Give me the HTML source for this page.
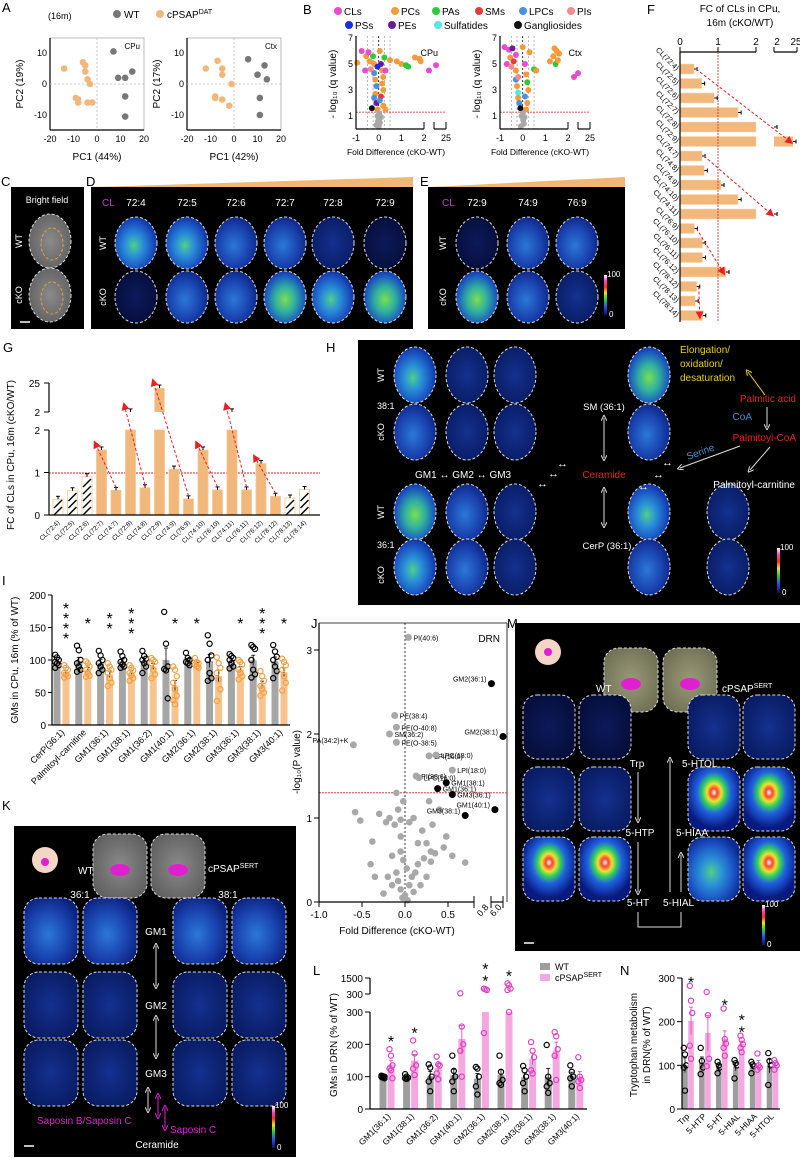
<!DOCTYPE html>
<html><head><meta charset="utf-8"><style>
html,body{margin:0;padding:0;background:#fff;}
svg{display:block;font-family:"Liberation Sans",sans-serif;}
</style></head><body>
<svg id="fig" xmlns="http://www.w3.org/2000/svg" width="800" height="1158" viewBox="0 0 800 1158">
<defs>
<radialGradient id="gBright" cx="45%" cy="55%" r="60%"><stop offset="0" stop-color="#4fd08a"/><stop offset="0.35" stop-color="#2a90d8"/><stop offset="0.75" stop-color="#1a4ec0"/><stop offset="1" stop-color="#0c2a90"/></radialGradient>
<radialGradient id="gMid" cx="45%" cy="55%" r="60%"><stop offset="0" stop-color="#2b78d8"/><stop offset="0.6" stop-color="#1a44b0"/><stop offset="1" stop-color="#0c2280"/></radialGradient>
<radialGradient id="gDim" cx="50%" cy="50%" r="60%"><stop offset="0" stop-color="#14318f"/><stop offset="1" stop-color="#081a60"/></radialGradient>
<radialGradient id="gVdim" cx="50%" cy="50%" r="60%"><stop offset="0" stop-color="#0b1a5a"/><stop offset="1" stop-color="#050d38"/></radialGradient>
<radialGradient id="gGreen" cx="50%" cy="55%" r="60%"><stop offset="0" stop-color="#7adf50"/><stop offset="0.4" stop-color="#30b0a0"/><stop offset="0.8" stop-color="#1a50c0"/><stop offset="1" stop-color="#0c2a90"/></radialGradient>
<radialGradient id="gHot" cx="50%" cy="40%" r="55%"><stop offset="0" stop-color="#ffffff"/><stop offset="0.12" stop-color="#ff4030"/><stop offset="0.25" stop-color="#f0e030"/><stop offset="0.4" stop-color="#30d060"/><stop offset="0.6" stop-color="#2060e0"/><stop offset="1" stop-color="#081a80"/></radialGradient>
<radialGradient id="gGray" cx="50%" cy="50%" r="60%"><stop offset="0" stop-color="#8a8a8a"/><stop offset="1" stop-color="#5e5e5e"/></radialGradient>
<radialGradient id="gOlive" cx="50%" cy="50%" r="60%"><stop offset="0" stop-color="#9a9a78"/><stop offset="1" stop-color="#6e6e55"/></radialGradient>
<linearGradient id="gBar" x1="0" y1="0" x2="0" y2="1"><stop offset="0" stop-color="#ffffff"/><stop offset="0.15" stop-color="#ff40c0"/><stop offset="0.3" stop-color="#ff3020"/><stop offset="0.45" stop-color="#f0e020"/><stop offset="0.6" stop-color="#30d040"/><stop offset="0.8" stop-color="#2050f0"/><stop offset="1" stop-color="#10105a"/></linearGradient>
<marker id="arrRed" markerWidth="8" markerHeight="8" refX="4" refY="4" orient="auto"><path d="M0,0 L8,4 L0,8 z" fill="#e82020"/></marker>
<marker id="arrW" markerWidth="6" markerHeight="6" refX="3" refY="3" orient="auto-start-reverse"><path d="M0,0 L6,3 L0,6" fill="none" stroke="#ddd"/></marker>
<marker id="arrM" markerWidth="6" markerHeight="6" refX="3" refY="3" orient="auto-start-reverse"><path d="M0,0 L6,3 L0,6" fill="none" stroke="#e020d0"/></marker>
<marker id="arrY" markerWidth="6" markerHeight="6" refX="3" refY="3" orient="auto"><path d="M0,0 L6,3 L0,6" fill="none" stroke="#e8d020"/></marker>
</defs>
</svg>
<script>
// ===== DATA =====
const pcaCpuWtX=[7,15,9,12,12,12];
const pcaCpuWtY=[10.5,4,2,2,-4,-10.5];
const pcaCpuKoX=[-14,-6,-5,-5,-4,-3,-9,-8,-8,-4,-2];
const pcaCpuKoY=[5,7,6,4,1.5,0,-4.5,-5,-6,-6,-6];
const pcaCtxWtX=[6,13,10,14,11,11];
const pcaCtxWtY=[8,6,3,1.5,-4.5,-10];
const pcaCtxKoX=[-12,-7,-5,-5,-1,-8,-8,-5,-2];
const pcaCtxKoY=[5,7.5,5,3,0,-4,-4.5,-5,-7];
const lipidClasses=["CLs","PCs","PAs","SMs","LPCs","PIs","PSs","PEs","Sulfatides","Gangliosides"];
const classColors=["#e84ad0","#f59a3a","#2fc83a","#e83a3a","#4a90e0","#f48a8a","#1a2ee0","#6a1a9a","#50e8e8","#111111","#a8a8a8"];
const volCpuX=[-0.95,-0.75,-0.55,-0.6,-0.45,-0.4,-0.35,-0.25,-0.2,-0.2,-0.15,-0.1,-0.15,-0.2,-0.1,-0.3,-0.05,0.05,0.1,0.15,0.2,0.15,0.2,0.1,0.05,0.2,0.3,0.25,0.3,-0.05,0.5,0.8,1.0,1.2,1.6,1.8,1.85,1.3,2.25,2.6,-0.05,0,0.05,-0.1,0.1,0,0.02,-0.03];
const volCpuY=[5.1,6.0,5.6,4.5,5.9,5.2,4.6,5.6,5.0,4.3,3.8,3.3,2.7,2.4,2.0,1.6,1.5,6.0,5.0,4.5,4.0,3.5,3.0,2.5,2.2,1.8,1.5,5.5,4.5,4.8,5.3,5.2,5.0,4.9,5.5,5.4,5.2,4.8,4.5,4.9,1.0,0.7,0.5,0.3,0.9,0.2,1.2,0.6];
const volCpuC=[1,0,1,0,0,1,5,2,1,4,1,4,1,4,7,9,1,1,7,1,1,1,1,3,4,1,1,2,0,6,1,1,1,2,1,1,1,2,0,0,10,10,10,10,10,10,10,10];
const volCtxX=[-0.8,-0.7,-0.6,-0.55,-0.5,-0.45,-0.4,-0.3,-0.3,-0.25,-0.2,-0.2,-0.15,-0.1,-0.2,-0.3,0.0,0.1,0.15,0.2,0.25,0.1,0.2,0.15,0.3,0.5,0.6,1.2,1.35,1.4,1.5,1.6,1.45,1.55,2.3,2.5,-0.05,0.02,0.05,-0.08,0.08,0];
const volCtxY=[6.3,5.0,6.1,5.5,4.8,6.2,5.2,4.5,3.8,3.3,2.8,2.4,2.0,1.6,4.0,5.7,6.3,5.0,4.2,3.6,3.0,2.5,2.0,1.5,5.9,4.6,4.5,5.2,5.6,6.2,6.0,5.8,5.0,5.3,4.0,4.3,1.0,0.7,0.4,0.2,0.9,1.2];
const volCtxC=[0,0,0,1,5,7,3,1,4,1,8,1,4,9,5,0,1,0,1,2,1,4,1,1,1,2,1,1,1,1,1,1,2,1,0,0,10,10,10,10,10,10];
const clLabelsG=["CL(72:4)","CL(72:5)","CL(72:6)","CL(72:7)","CL(74:7)","CL(72:8)","CL(74:8)","CL(72:9)","CL(74:9)","CL(76:9)","CL(74:10)","CL(76:10)","CL(74:11)","CL(76:11)","CL(76:12)","CL(78:12)","CL(78:13)","CL(78:14)"];
const clValsG=[0.37,0.57,0.9,1.53,0.58,2.05,0.64,21,1.08,0.38,1.53,0.59,2.1,0.59,1.21,0.44,0.4,0.6];
const clHatchG=[1,1,1,0,0,0,0,0,0,0,0,0,0,0,0,0,1,1];
const clArrowsG=[[4,3],[6,5],[9,7],[11,10],[13,12],[15,14]];
const clLabelsF=["CL(72:4)","CL(72:5)","CL(72:6)","CL(72:7)","CL(72:8)","CL(72:9)","CL(74:7)","CL(74:8)","CL(74:9)","CL(74:10)","CL(74:11)","CL(76:9)","CL(76:10)","CL(76:11)","CL(76:12)","CL(78:12)","CL(78:13)","CL(78:14)"];
const clValsF=[0.37,0.57,0.9,1.53,2.05,21,0.58,0.64,1.08,1.53,2.1,0.38,0.59,0.59,1.21,0.44,0.4,0.6];
const clArrowsF=[[0,5],[6,10],[11,14],[15,17]];
const iCats=["CerP(36:1)","Palmitoyl-carnitine","GM1(36:1)","GM1(38:1)","GM1(36:2)","GM1(40:1)","GM2(36:1)","GM2(38:1)","GM3(36:1)","GM3(38:1)","GM3(40:1)"];
const iWt=[[108,104,100,97,95,92,88],[122,115,100,95,90,85,82],[114,107,100,95,90,85,80],[113,106,100,97,93,90,88],[114,106,102,100,95,90,80],[174,125,90,86,84,41],[111,103,100,97,95,92],[138,125,107,100,80,72,68],[109,106,103,100,95,90,87],[123,120,117,100,85,78,73],[123,113,105,100,90,83,72]];
const iKo=[[92,88,85,80,78,75,73],[98,95,90,85,80,76,74],[95,90,85,80,72,65,60],[92,88,84,80,77,72,68],[103,100,97,95,85,78,72],[90,85,75,65,55,45,38,32],[103,97,95,93,90,88],[104,95,88,80,70,55,37],[100,97,93,85,80,75,70],[83,75,68,60,55,50,45],[102,97,92,85,75,65,53]];
const iStars=[4,1,2,3,0,1,1,0,1,3,1];
const iTicks=[0,50,100,150,200];
const jLabX=[0.04,1.0,6.0,-0.12,-0.18,-0.1,-0.1,-0.6,0.28,0.36,0.55,0.13,0.16,0.48,0.38,0.55,2.5,0.7];
const jLabY=[3.15,2.6,1.97,2.22,2.0,2.08,1.9,1.87,1.74,1.75,1.57,1.5,1.48,1.42,1.35,1.28,1.1,1.03];
const jLabText=["PI(40:6)","GM2(36:1)","GM2(38:1)","PE(38:4)","SM(36:2)","PE(O-40:8)","PE(O-38:5)","PA(34:2)+K","LPI(16:0)","LPC(18:0)","LPI(18:0)","PI(38:6)","LPC(16:0)","GM1(38:1)","GM1(36:1)","GM3(36:1)","GM1(40:1)","GM3(38:1)"];
const jLabGM=[0,1,1,0,0,0,0,0,0,0,0,0,0,1,1,1,1,1];
const jGrayX=[-0.58,-0.52,-0.38,-0.22,-0.18,-0.1,-0.08,-0.05,-0.12,0.05,0.1,0.2,0.25,0.3,0.35,0.45,0.55,0.7,-0.4,-0.35,-0.05,-0.02,0.02,0.08,-0.1,0.15,0.22,0.3,-0.2,-0.15,-0.05,0.0,0.05,0.1,-0.08,0.12,0.18,-0.25,0.25,-0.02,0.28,0.4,-0.3,0.15,-0.05,0.32,0.48,-0.15,0.03,-0.03];
const jGrayY=[1.07,0.97,0.72,0.95,1.0,1.3,1.1,0.98,0.92,0.95,1.0,0.85,0.7,0.6,0.58,0.65,0.55,0.47,0.45,0.3,0.6,0.5,0.4,0.3,0.35,0.45,0.52,0.48,0.3,0.2,0.15,0.08,0.2,0.12,0.25,0.35,0.2,0.1,0.3,1.2,1.2,1.1,1.05,0.7,0.78,0.92,0.78,0.55,0.02,0.05];
const jYTicks=[0,1,2,3];
const jXTicks=[-1.0,-0.5,0.0,0.5];
const lCats=["GM1(36:1)","GM1(38:1)","GM1(36:2)","GM1(40:1)","GM2(36:1)","GM2(38:1)","GM3(36:1)","GM3(38:1)","GM3(40:1)"];
const lWt=[[103,101,100,99,97,95],[108,100,97,95,93],[138,128,100,85,55],[165,118,100,85,55],[130,125,100,70,45],[165,115,90,80,75],[133,120,100,80,55],[198,100,80,70,50],[135,115,100,95,70]];
const lKo=[[185,165,135,125,120,95],[212,172,135,125,105],[162,138,135,110,92],[350,255,200,180,100],[700,650,600,235],[1100,950,700,600,300],[207,180,160,120,110],[238,225,185,165,90],[160,100,90,85,65]];
const lStars=[1,1,0,0,2,1,0,0,0];
const nCats=["Trp","5-HTP","5-HT","5-HIAL","5-HIAA","5-HTOL"];
const nWt=[[140,125,100,95,42],[140,110,95,80],[108,100,95,82],[112,105,100,70],[108,102,98,82],[128,110,100,55]];
const nKo=[[282,248,220,145,115],[268,215,115,98],[230,160,150,140,122],[168,158,148,140,130],[127,100,95,90],[112,105,100,90]];
const nStars=[1,0,1,2,0,0];
const nTicks=[0,100,200,300];

// ===== HELPERS =====
const NS="http://www.w3.org/2000/svg";
const S=document.getElementById('fig');
function el(tag,at,name,inter){
  const e=document.createElementNS(NS,tag);
  for(const k in at) e.setAttribute(k,at[k]);
  
  
  S.appendChild(e);
  return e;
}
function tx(str,x,y,size,o,name){
  o=o||{};
  const e=el('text',{x:x,y:y,'font-size':size,fill:o.fill||'#000','text-anchor':o.anchor||'start','font-style':o.italic?'italic':'normal','font-weight':o.bold?'bold':'normal'},name||'label');
  if(o.rot) e.setAttribute('transform','rotate('+o.rot+' '+x+' '+y+')');
  e.textContent=str;
  return e;
}
function sup(e,str){const t=document.createElementNS(NS,'tspan');t.setAttribute('font-size','7');t.setAttribute('dy','-4');t.textContent=str;e.appendChild(t);}
function ln(x1,y1,x2,y2,st,w,name,extra){const a={x1:x1,y1:y1,x2:x2,y2:y2,stroke:st,'stroke-width':w||1};if(extra)for(const k in extra)a[k]=extra[k];return el('line',a,name||'line');}
function rc(x,y,w,h,f,name,extra){const a={x:x,y:y,width:w,height:h,fill:f};if(extra)for(const k in extra)a[k]=extra[k];return el('rect',a,name||'rect');}
function ci(x,y,r,f,st,name){return el('circle',{cx:x,cy:y,r:r,fill:f,stroke:st||'none','stroke-width':1.2},name||'point');}
function brain(cx,cy,rx,ry,g,name){return el('ellipse',{cx:cx,cy:cy,rx:rx,ry:ry,fill:'url(#'+g+')',stroke:'#ddd','stroke-width':1,'stroke-dasharray':'3,2'},name);}
function coronal(cx,cy,rx,ry,g,name){return el('rect',{x:cx-rx,y:cy-ry,width:2*rx,height:2*ry,rx:rx*0.55,ry:ry*0.45,fill:'url(#'+g+')',stroke:'#ddd','stroke-width':1,'stroke-dasharray':'3,2'},name);}
function colorbar(x,y,h,name){rc(x,y,3,h,'url(#gBar)',name);tx('100',x+3,y+2,8,{fill:'#fff'},name+'-max');tx('0',x+5,y+h+2,8,{fill:'#fff'},name+'-min');}
function letter(s,x,y){tx(s,x,y,13,{},'panel-label-'+s.toLowerCase());}
function mean(a){return a.reduce((s,v)=>s+v,0)/a.length;}
function sem(a){const m=mean(a);return Math.sqrt(a.reduce((s,v)=>s+(v-m)*(v-m),0)/(a.length-1))/Math.sqrt(a.length);}

// ===== PANEL LETTERS =====
letter('A',2,12);letter('B',303,14);letter('F',647,14);letter('C',1,186);letter('D',86,186);letter('E',420,186);
letter('G',3,352);letter('H',326,352);letter('I',2,585);letter('J',311,628);letter('M',507,628);letter('K',2,810);letter('L',313,975);letter('N',620,975);

// ===== PANEL A =====
tx('(16m)',48,19,9,{},'age-label');
ci(117,14,4,'#777',null,'legend-wt-dot');tx('WT',124,18,10,{},'legend-wt');
ci(160,14,4,'#f2b77a',null,'legend-cko-dot');const lc=tx('cPSAP',167,18,10,{},'legend-cko');sup(lc,'DAT');
function pca(x0,wx,wy,kx,ky,reg,p1,p2){
  const ax=v=>x0+(v+20)/40*94, ay=v=>84-v*3.1;
  rc(x0,38,94,92,'none','pca-frame-'+reg,{stroke:'#bbb'});
  ln(x0,38,x0,130,'#000',1.2,'pca-y-axis-'+reg);ln(x0,130,x0+94,130,'#000',1.2,'pca-x-axis-'+reg);
  ln(ax(0),38,ax(0),130,'#bbb',0.8,'pca-zero-v',{'stroke-dasharray':'2,2'});ln(x0,ay(0),x0+94,ay(0),'#bbb',0.8,'pca-zero-h',{'stroke-dasharray':'2,2'});
  [-20,-10,0,10,20].forEach(v=>tx(String(v),ax(v),142,9,{anchor:'middle'},'pca-x-tick'));
  [10,0,-10].forEach(v=>tx(String(v),x0-3,ay(v)+3,9,{anchor:'end'},'pca-y-tick'));
  tx(p1,x0+47,160,10,{anchor:'middle'},'pca-x-title');tx(p2,x0-27,84,10,{anchor:'middle',rot:-90},'pca-y-title');
  tx(reg,x0+90,49,8,{anchor:'end'},'pca-region');
  for(let i=0;i<wx.length;i++)ci(ax(wx[i]),ay(wy[i]),3.3,'#777',null,'pca-wt-point');
  for(let i=0;i<kx.length;i++)ci(ax(kx[i]),ay(ky[i]),3.3,'#f2b77a',null,'pca-cko-point');
}
pca(50,pcaCpuWtX,pcaCpuWtY,pcaCpuKoX,pcaCpuKoY,'CPu','PC1 (44%)','PC2 (19%)');
pca(187,pcaCtxWtX,pcaCtxWtY,pcaCtxKoX,pcaCtxKoY,'Ctx','PC1 (42%)','PC2 (17%)');

// ===== PANEL B =====
const legX=[338,395,436,479,523,571,349,392,438,518],legY=[11,11,11,11,11,11,25,25,25,25];
lipidClasses.forEach((c,i)=>{ci(legX[i],legY[i],4,classColors[i],null,'legend-dot-'+c.toLowerCase());tx(c,legX[i]+6,legY[i]+4,10,{},'legend-'+c.toLowerCase());});
function volcano(x0,X,Y,C,reg){
  const bx=v=>v<=2.0?x0+(v+1)*22.7:x0+68+(v-2)*20, by=v=>129-v*13;
  [-0.5,-0.25,0.25,0.5].forEach(v=>ln(bx(v),36,bx(v),129,'#999',0.7,'threshold-line',{'stroke-dasharray':'2,2'}));
  ln(bx(0),36,bx(0),129,'#000',0.8,'zero-line',{'stroke-dasharray':'2,2'});
  ln(x0,by(1.3),x0+90,by(1.3),'#e02020',0.8,'q-threshold',{'stroke-dasharray':'2,1'});
  for(let i=0;i<X.length;i++)ci(bx(X[i]),by(Y[i]),3,classColors[C[i]],null,'volcano-point');
  ln(x0,36,x0,129,'#000',1.2,'volcano-y-axis');ln(x0,129,x0+68,129,'#000',1.2,'volcano-x-axis');ln(x0+78,129,x0+90,129,'#000',1.2,'volcano-x-axis-break');
  ln(x0+68,122,x0+68,129,'#000',1,'tick');ln(x0+78,122,x0+78,129,'#000',1,'tick');ln(x0+90,122,x0+90,129,'#000',1,'tick');
  [-1,0,1,2].forEach(v=>tx(String(v),bx(v),141,9,{anchor:'middle'},'volcano-x-tick'));tx('25',x0+90,141,9,{anchor:'middle'},'volcano-x-tick');
  [7,5,3,1].forEach(v=>tx(String(v),x0-3,by(v)+3,9,{anchor:'end'},'volcano-y-tick'));
  tx('- log\u2081\u2080 (q value)',x0-20,84,10,{anchor:'middle',rot:-90},'volcano-y-title');
  tx('Fold Difference (cKO-WT)',x0+40,155,8.5,{anchor:'middle'},'volcano-x-title');
  tx(reg,x0+82,56,9,{anchor:'end'},'volcano-region');
}
volcano(356,volCpuX,volCpuY,volCpuC,'CPu');volcano(500,volCtxX,volCtxY,volCtxC,'Ctx');

// ===== PANEL F =====
tx('FC of CLs in CPu,',740,12,10,{anchor:'middle'},'f-title-1');tx('16m (cKO/WT)',740,26,10,{anchor:'middle'},'f-title-2');
const fx=v=>v<=2?680+v*38:774+(v-2)/23*23, fy=i=>69+i*14.5;
ln(680,52,756,52,'#000',1.2,'f-x-axis');ln(774,52,797,52,'#000',1.2,'f-x-axis-break');
[0,1,2].forEach(v=>{ln(fx(v),47,fx(v),52,'#000',1,'tick');tx(String(v),fx(v),45,10,{anchor:'middle'},'f-x-tick');});
ln(774,47,774,52,'#000',1,'tick');ln(797,47,797,52,'#000',1,'tick');tx('2',777,45,10,{anchor:'middle'},'f-x-tick');tx('25',796,45,10,{anchor:'middle'},'f-x-tick');
clValsF.forEach((v,i)=>{
  rc(680,fy(i)-5,fx(Math.min(v,2))-680,10,'#f2b77a','f-bar-'+i,{stroke:'#f8dcc0','stroke-width':0.6});
  if(v>2){rc(774,fy(i)-5,fx(v)-774,10,'#f2b77a','f-bar-upper-'+i);}
  ln(fx(v),fy(i),fx(v)+3,fy(i),'#000',1,'f-errorbar');ln(fx(v)+3,fy(i)-2,fx(v)+3,fy(i)+2,'#000',1,'f-errorcap');
  tx(clLabelsF[i],676,fy(i)+2,7.5,{anchor:'end',rot:45},'f-category-label');
});
ln(680,52,680,322,'#000',1.2,'f-y-axis');
ln(fx(1),52,fx(1),322,'#e02020',0.8,'f-ref-line',{'stroke-dasharray':'2,1'});
clArrowsF.forEach(p=>ln(fx(clValsF[p[0]])+2,fy(p[0]),fx(clValsF[p[1]])-3,fy(p[1]),'#e82020',1,'f-trend-arrow',{'stroke-dasharray':'3,2','marker-end':'url(#arrRed)'}));

// ===== PANELS C, D, E (images) =====
rc(11,187,73,142,'#000','panel-c-image');
tx('Bright field',47,203,9,{fill:'#fff',anchor:'middle'},'bright-field-title');
brain(50,241,21,27,'gGray','bf-wt-slice');brain(50,295,21,27,'gGray','bf-cko-slice');
el('ellipse',{cx:52,cy:244,rx:11,ry:16,fill:'none',stroke:'#e0a040','stroke-dasharray':'3,2'},'cpu-outline');
el('ellipse',{cx:52,cy:298,rx:11,ry:16,fill:'none',stroke:'#e0a040','stroke-dasharray':'3,2'},'cpu-outline');
tx('WT',22,241,9,{fill:'#fff',anchor:'middle',rot:-90},'row-label-wt');tx('cKO',22,295,9,{fill:'#fff',anchor:'middle',rot:-90},'row-label-cko');
ln(20,322,30,322,'#fff',1.5,'scale-bar');
el('polygon',{points:'93,187 413,177 413,187',fill:'#f0b878'},'d-gradient-wedge');
rc(91,187,322,142,'#000','panel-d-image');
tx('CL',102,206,10,{fill:'#c040c0'},'d-cl-label');
const dLab=['72:4','72:5','72:6','72:7','72:8','72:9'],dX=[136,187,236,285,333,385];
const dWt=['gBright','gBright','gMid','gMid','gDim','gVdim'],dKo=['gVdim','gMid','gMid','gGreen','gBright','gGreen'];
dLab.forEach((l,i)=>{tx(l,dX[i],206,10,{fill:'#fff',anchor:'middle'},'d-col-label');brain(dX[i],243,21,26,dWt[i],'d-wt-slice');brain(dX[i],297,21,26,dKo[i],'d-cko-slice');});
tx('WT',106,243,9,{fill:'#fff',anchor:'middle',rot:-90},'row-label-wt');tx('cKO',106,297,9,{fill:'#fff',anchor:'middle',rot:-90},'row-label-cko');
el('polygon',{points:'430,187 625,177 625,187',fill:'#f0b878'},'e-gradient-wedge');
rc(428,187,197,142,'#000','panel-e-image');
tx('CL',442,206,10,{fill:'#c040c0'},'e-cl-label');
const eLab=['72:9','74:9','76:9'],eX=[477,528,577],eWt=['gVdim','gMid','gMid'],eKo=['gGreen','gMid','gDim'];
eLab.forEach((l,i)=>{tx(l,eX[i],206,10,{fill:'#fff',anchor:'middle'},'e-col-label');brain(eX[i],243,21,26,eWt[i],'e-wt-slice');brain(eX[i],297,21,26,eKo[i],'e-cko-slice');});
tx('WT',446,243,9,{fill:'#fff',anchor:'middle',rot:-90},'row-label-wt');tx('cKO',446,297,9,{fill:'#fff',anchor:'middle',rot:-90},'row-label-cko');
colorbar(604,275,40,'e-colorbar');

// ===== PANEL G =====
const gy=v=>v<=2?515-v*42.5:412-(v-2)/23*29, gx=i=>58+i*14.5;
ln(49,473,320,473,'#e02020',0.9,'g-ref-line',{'stroke-dasharray':'2,1'});
clValsG.forEach((v,i)=>{
  const x=gx(i)-5;
  rc(x,gy(Math.min(v,2)),10,515-gy(Math.min(v,2)),clHatchG[i]?'#fff':'#f2b77a','g-bar-'+i,{stroke:'#f2c898','stroke-width':0.8});
  if(clHatchG[i]){for(let k=0;k<6;k++){const yb=515-k*7;if(yb-7<gy(v))break;ln(x+1,yb,x+9,yb-8,'#000',1.4,'g-hatch');}}
  if(v>2)rc(x,gy(v),10,412-gy(v),'#f2b77a','g-bar-upper-'+i);
  ln(gx(i),gy(v),gx(i),gy(v)-3,'#000',1,'g-errorbar');ln(gx(i)-2,gy(v)-3,gx(i)+2,gy(v)-3,'#000',1,'g-errorcap');
  tx(clLabelsG[i],gx(i)+2,523,6.5,{anchor:'end',rot:-45},'g-category-label');
});
clArrowsG.forEach(p=>ln(gx(p[0]),gy(clValsG[p[0]])-3,gx(p[1])-6,gy(clValsG[p[1]])-6,'#e82020',1,'g-trend-arrow',{'stroke-dasharray':'3,2','marker-end':'url(#arrRed)'}));
ln(49,515,320,515,'#000',1.2,'g-x-axis');ln(49,430,49,515,'#000',1.2,'g-y-axis');ln(49,383,49,412,'#000',1.2,'g-y-axis-break');
[[0,'0'],[1,'1'],[2,'2']].forEach(t=>{ln(44,gy(t[0]),49,gy(t[0]),'#000',1,'tick');tx(t[1],40,gy(t[0])+4,10,{anchor:'end'},'g-y-tick');});
ln(44,412,49,412,'#000',1,'tick');ln(44,383,49,383,'#000',1,'tick');tx('2',40,416,10,{anchor:'end'},'g-y-tick');tx('25',40,387,10,{anchor:'end'},'g-y-tick');
tx('FC of CLs in CPu, 16m (cKO/WT)',14,455,10,{anchor:'middle',rot:-90},'g-y-title');

// ===== PANEL H =====
rc(358,340,442,265,'#000','panel-h-image');
const hRows=[375,432,512,567],hCols=[415,467,515];
const hG=[['gBright','gDim','gDim'],['gMid','gDim','gDim'],['gGreen','gMid','gDim'],['gBright','gMid','gDim']];
hRows.forEach((y,r)=>hCols.forEach((x,c)=>brain(x,y,21,28,hG[r][c],'h-slice')));
brain(649,375,21,28,'gGreen','sm-wt-slice');brain(649,432,21,28,'gMid','sm-cko-slice');
brain(649,512,21,28,'gBright','cerp-wt-slice');brain(649,567,21,28,'gMid','cerp-cko-slice');
brain(728,512,21,28,'gDim','pcarn-wt-slice');brain(728,567,21,28,'gDim','pcarn-cko-slice');
tx('WT',384,375,9,{fill:'#fff',anchor:'middle',rot:-90},'row-label-wt');tx('38:1',377,409,9,{fill:'#fff'},'h-38-1');
tx('cKO',384,432,9,{fill:'#fff',anchor:'middle',rot:-90},'row-label-cko');
tx('WT',384,512,9,{fill:'#fff',anchor:'middle',rot:-90},'row-label-wt');tx('36:1',377,548,9,{fill:'#fff'},'h-36-1');
tx('cKO',384,575,9,{fill:'#fff',anchor:'middle',rot:-90},'row-label-cko');
tx('GM1 \u2194 GM2 \u2194 GM3',415,478,10,{fill:'#fff'},'gm-pathway');
tx('\u2194',557,467,11,{fill:'#fff'},'arrow');tx('\u2194',548,477,11,{fill:'#fff'},'arrow');tx('\u2194',537,487,11,{fill:'#fff'},'arrow');
tx('Ceramide',604,478,10,{fill:'#e82020',anchor:'middle'},'ceramide-label');
tx('\u2194',653,478,11,{fill:'#fff'},'arrow');tx('\u2194',662,466,11,{fill:'#fff'},'arrow');tx('\u2194',638,490,11,{fill:'#fff'},'arrow');
ln(604,418,604,458,'#ddd',1,'sm-arrow',{'marker-start':'url(#arrW)','marker-end':'url(#arrW)'});
ln(604,490,604,525,'#ddd',1,'cerp-arrow',{'marker-start':'url(#arrW)','marker-end':'url(#arrW)'});
tx('SM (36:1)',604,410,9.5,{fill:'#fff',anchor:'middle'},'sm-label');tx('CerP (36:1)',607,549,9.5,{fill:'#fff',anchor:'middle'},'cerp-label');
tx('Elongation/',680,353,10,{fill:'#e8d020'},'elongation-label');tx('oxidation/',680,367,10,{fill:'#e8d020'},'oxidation-label');tx('desaturation',680,381,10,{fill:'#e8d020'},'desaturation-label');
ln(765,395,748,372,'#e8d020',1,'elongation-arrow',{'marker-end':'url(#arrY)'});
tx('Palmitic acid',796,402,10,{fill:'#e82020',anchor:'end'},'palmitic-acid-label');
tx('CoA',752,420,10,{fill:'#3a90d0',anchor:'end'},'coa-label');ln(767,407,767,427,'#ddd',1,'coa-arrow',{'marker-end':'url(#arrW)'});
tx('Palmitoyl-CoA',796,441,10,{fill:'#e82020',anchor:'end'},'palmitoyl-coa-label');
tx('Serine',688,460,10,{fill:'#3a90d0',rot:-20},'serine-label');ln(740,446,680,468,'#ddd',1,'serine-arrow',{'marker-end':'url(#arrW)'});
ln(770,447,750,470,'#ddd',1,'carnitine-arrow',{'marker-end':'url(#arrW)'});
tx('Palmitoyl-carnitine',795,488,10,{fill:'#fff',anchor:'end'},'palmitoyl-carnitine-label');
colorbar(777,548,45,'h-colorbar');

// ===== PANEL I =====
const iy=v=>725-v*0.65, ixg=g=>57+g*21.8;
iTicks.forEach(t=>{ln(48,iy(t),52,iy(t),'#000',1,'tick');tx(String(t),46,iy(t)+4,10,{anchor:'end'},'i-y-tick');});
iCats.forEach((c,g)=>{
  [[iWt[g],ixg(g),'#a6a6a6','#000','wt'],[iKo[g],ixg(g)+9,'#f7c48f','#f5a040','cko']].forEach(s=>{
    const m=mean(s[0]),e=sem(s[0]);
    rc(s[1]-3.5,iy(m),7,725-iy(m),s[2],'i-bar-'+s[4]);
    ln(s[1],iy(m-e),s[1],iy(m+e),'#000',0.8,'i-errorbar');ln(s[1]-2,iy(m+e),s[1]+2,iy(m+e),'#000',0.8,'i-errorcap');
    s[0].forEach((v,k)=>ci(s[1]+((k%3)-1)*1.8,iy(v),2.6,'none',s[3],'i-point-'+s[4]));
  });
  for(let k=0;k<iStars[g];k++)tx('*',ixg(g)+9,621+(k-(iStars[g]-1)/2)*10+8,16,{anchor:'middle'},'i-significance');
  tx(c,ixg(g)+8,733,9,{anchor:'end',rot:-45},'i-category-label');
});
ln(52,595,52,725,'#000',1.2,'i-y-axis');ln(52,725,290,725,'#000',1.2,'i-x-axis');
tx('GMs in CPu, 16m (% of WT)',18,660,10,{anchor:'middle',rot:-90},'i-y-title');

// ===== PANEL J =====
const jx=v=>v<=0.8?319+(v+1)*86:491+(v-0.8)/5.2*12, jy=v=>902-v*84;
ln(319,623,507,623,'#000',0.8,'j-frame-top');ln(507,623,507,902,'#000',0.8,'j-frame-right');
ln(jx(0),623,jx(0),902,'#000',0.8,'j-zero-line',{'stroke-dasharray':'2,2'});
ln(319,jy(1.3),507,jy(1.3),'#e02020',0.9,'j-p-threshold',{'stroke-dasharray':'2,1'});
for(let i=0;i<jGrayX.length;i++)ci(jx(jGrayX[i]),jy(jGrayY[i]),3.3,'#a8a8a8',null,'j-point');
for(let i=0;i<jLabX.length;i++){
  const x=jx(jLabX[i]),y=jy(jLabY[i]);
  ci(x,y,3.5,jLabGM[i]?'#000':'#a8a8a8',null,'j-point-labeled');
  const right=jLabX[i]>0.6||(i===7);
  tx(jLabText[i],right?x-5:x+5,y-(right?5:0)+3,7,{anchor:right?'end':'start'},'j-point-label');
}
ln(319,623,319,902,'#000',1.2,'j-y-axis');ln(319,902,474,902,'#000',1.2,'j-x-axis');ln(491,902,503,902,'#000',1.2,'j-x-axis-break');
ln(474,896,474,908,'#000',1,'tick');ln(491,896,491,908,'#000',1,'tick');ln(503,896,503,908,'#000',1,'tick');
jYTicks.forEach(t=>{ln(314,jy(t),319,jy(t),'#000',1,'tick');tx(String(t),312,jy(t)+4,10,{anchor:'end'},'j-y-tick');});
jXTicks.forEach(t=>{ln(jx(t),902,jx(t),907,'#000',1,'tick');tx(t.toFixed(1),jx(t),918,10,{anchor:'middle'},'j-x-tick');});
tx('0.8',481,917,9,{rot:-50},'j-x-tick-break');tx('6.0',494,917,9,{rot:-50},'j-x-tick-break');
tx('Fold Difference (cKO-WT)',397,934,10,{anchor:'middle'},'j-x-title');
tx('-log\u2081\u2080(P value)',300,762,10,{anchor:'middle',rot:-90},'j-y-title');
tx('DRN',500,642,10,{anchor:'end'},'j-region');

// ===== PANEL M =====
rc(515,623,285,328,'#000','panel-m-image');
ci(548,652,13,'#f5d5c5',null,'m-brain-icon');ci(548,652,4,'#e020d0',null,'m-drn-icon');
coronal(631,680,27,32,'gOlive','m-wt-section');coronal(690,680,27,32,'gOlive','m-cko-section');
el('ellipse',{cx:631,cy:684,rx:10,ry:6,fill:'#e020d0'},'m-drn-wt');el('ellipse',{cx:690,cy:684,rx:10,ry:6,fill:'#e020d0'},'m-drn-cko');
tx('WT',596,692,10,{fill:'#fff'},'m-wt-label');const mc=tx('cPSAP',722,692,10,{fill:'#fff'},'m-cko-label');sup(mc,'SERT');
const mCols=[549,605,714,769],mRows=[727,799,869];
const mG=[['gVdim','gVdim','gDim','gDim'],['gDim','gDim','gHot','gHot'],['gHot','gHot','gBright','gHot']];
mRows.forEach((y,r)=>mCols.forEach((x,c)=>{if(!(r===0&&c>=2&&false))coronal(x,y,26,32,mG[r][c],'m-section');}));
tx('Trp',637,767,10,{fill:'#fff',anchor:'middle'},'trp-label');tx('5-HTOL',682,767,10,{fill:'#fff'},'5htol-label');
tx('5-HTP',640,836,10,{fill:'#fff',anchor:'middle'},'5htp-label');tx('5-HIAA',676,836,10,{fill:'#fff'},'5hiaa-label');
tx('5-HT',638,906,10,{fill:'#fff',anchor:'middle'},'5ht-label');tx('5-HIAL',663,906,10,{fill:'#fff'},'5hial-label');
ln(638,772,638,820,'#ddd',1,'trp-arrow',{'marker-end':'url(#arrW)'});ln(638,842,638,892,'#ddd',1,'5htp-arrow',{'marker-end':'url(#arrW)'});
ln(670,892,670,760,'#ddd',1,'5hial-arrow',{'marker-end':'url(#arrW)'});ln(681,892,681,855,'#ddd',1,'5hiaa-arrow',{'marker-end':'url(#arrW)'});
el('polyline',{points:'638,912 638,927 681,927 681,912',fill:'none',stroke:'#ddd'},'5ht-5hial-connector');
colorbar(762,905,40,'m-colorbar');ln(524,943,534,943,'#fff',1.5,'scale-bar');

// ===== PANEL K =====
rc(14,826,282,331,'#000','panel-k-image');
ci(45,860,13,'#f5d5c5',null,'k-brain-icon');ci(45,862,4,'#e020d0',null,'k-drn-icon');
coronal(120,866,27,32,'gGray','k-wt-section');coronal(178,866,27,32,'gGray','k-cko-section');
el('ellipse',{cx:120,cy:870,rx:10,ry:6,fill:'#e020d0'},'k-drn-wt');el('ellipse',{cx:178,cy:870,rx:10,ry:6,fill:'#e020d0'},'k-drn-cko');
tx('WT',78,874,10,{fill:'#fff'},'k-wt-label');const kc=tx('cPSAP',208,872,10,{fill:'#fff'},'k-cko-label');sup(kc,'SERT');
tx('36:1',80,898,10,{fill:'#fff',anchor:'middle'},'k-36-1');tx('38:1',228,898,10,{fill:'#fff',anchor:'middle'},'k-38-1');
const kCols=[51,110,200,259],kRows=[931,1005,1073],kNames=['GM1','GM2','GM3'];
const kG=[['gMid','gMid','gMid','gMid'],['gDim','gDim','gDim','gDim'],['gDim','gDim','gDim','gDim']];
kRows.forEach((y,r)=>{kCols.forEach((x,c)=>coronal(x,y,27,33,kG[r][c],'k-section'));tx(kNames[r],156,y+4,10,{fill:'#fff',anchor:'middle'},'k-row-label');});
ln(156,946,156,986,'#ddd',1,'gm1-gm2-arrow',{'marker-start':'url(#arrW)','marker-end':'url(#arrW)'});
ln(156,1018,156,1056,'#ddd',1,'gm2-gm3-arrow',{'marker-start':'url(#arrW)','marker-end':'url(#arrW)'});
ln(148,1090,148,1110,'#ddd',1,'gm3-cer-arrow',{'marker-start':'url(#arrW)','marker-end':'url(#arrW)'});
ln(158,1096,158,1116,'#e020d0',1,'sapbc-arrow',{'marker-start':'url(#arrM)','marker-end':'url(#arrM)'});
ln(165,1108,165,1128,'#e020d0',1,'sapc-arrow',{'marker-start':'url(#arrM)','marker-end':'url(#arrM)'});
tx('Saposin B/Saposin C',37,1124,10,{fill:'#e020d0'},'saposin-bc-label');tx('Saposin C',170,1133,10,{fill:'#e020d0'},'saposin-c-label');
tx('Ceramide',157,1148,10,{fill:'#fff',anchor:'middle'},'k-ceramide-label');
colorbar(272,1106,42,'k-colorbar');ln(24,1146,34,1146,'#fff',1.5,'scale-bar');

// ===== PANEL L =====
const ly=v=>v<=300?1109-v*0.3233:994-(v-300)/1200*16, lxg=g=>383+g*23.6;
lCats.forEach((c,g)=>{
  [[lWt[g],lxg(g),'#9e9e9e','#000','wt'],[lKo[g],lxg(g)+8,'#f5a8e0','#e040c0','cko']].forEach(s=>{
    const m=mean(s[0]),e=sem(s[0]),mt=Math.min(m,300);
    rc(s[1]-3.5,ly(mt),7,1109-ly(mt),s[2],'l-bar-'+s[4]);
    if(m<=300){ln(s[1],ly(m-e),s[1],ly(m+e),s[3],0.8,'l-errorbar');ln(s[1]-2,ly(m+e),s[1]+2,ly(m+e),s[3],0.8,'l-errorcap');}
    s[0].forEach((v,k)=>ci(s[1]+((k%3)-1)*1.5,ly(v),2.6,'none',s[3],'l-point-'+s[4]));
  });
  const top=ly(Math.max(...lKo[g]));
  for(let k=0;k<lStars[g];k++)tx('*',lxg(g)+8,top-2-k*12,16,{anchor:'middle'},'l-significance');
  tx(c,lxg(g)+8,1117,8.5,{anchor:'end',rot:-45},'l-category-label');
});
ln(370,1012,370,1109,'#000',1.2,'l-y-axis');ln(370,978,370,994,'#000',1.2,'l-y-axis-break');ln(370,1109,587,1109,'#000',1.2,'l-x-axis');
[0,100,200,300].forEach(t=>{ln(365,ly(t),370,ly(t),'#000',1,'tick');tx(String(t),363,ly(t)+4,10,{anchor:'end'},'l-y-tick');});
ln(365,994,370,994,'#000',1,'tick');ln(365,978,370,978,'#000',1,'tick');tx('300',363,998,10,{anchor:'end'},'l-y-tick');tx('1500',363,982,10,{anchor:'end'},'l-y-tick');
tx('GMs in DRN (% of WT)',337,1045,10,{anchor:'middle',rot:-90},'l-y-title');
rc(540,963,10,7,'#9e9e9e','l-legend-wt-swatch');tx('WT',555,970,9,{},'l-legend-wt');
rc(540,974,10,7,'#f5a8e0','l-legend-cko-swatch');const llc=tx('cPSAP',555,981,9,{},'l-legend-cko');sup(llc,'SERT');

// ===== PANEL N =====
const ny=v=>1109-v*0.4367, nxg=g=>685+g*16.9;
nCats.forEach((c,g)=>{
  [[nWt[g],nxg(g),'#9e9e9e','#000','wt'],[nKo[g],nxg(g)+6,'#f5a8e0','#e040c0','cko']].forEach(s=>{
    const m=mean(s[0]),e=sem(s[0]);
    rc(s[1]-2.8,ny(m),5.6,1109-ny(m),s[2],'n-bar-'+s[4]);
    ln(s[1],ny(m-e),s[1],ny(m+e),s[3],0.8,'n-errorbar');ln(s[1]-2,ny(m+e),s[1]+2,ny(m+e),s[3],0.8,'n-errorcap');
    s[0].forEach((v,k)=>ci(s[1]+((k%3)-1)*1.2,ny(v),2.6,'none',s[3],'n-point-'+s[4]));
  });
  const top=ny(Math.max(...nKo[g]));
  for(let k=0;k<nStars[g];k++)tx('*',nxg(g)+6,top+2-k*12,16,{anchor:'middle'},'n-significance');
  tx(c,nxg(g)+5,1117,8.5,{anchor:'end',rot:-45},'n-category-label');
});
ln(682,978,682,1109,'#000',1.2,'n-y-axis');ln(682,1109,780,1109,'#000',1.2,'n-x-axis');
nTicks.forEach(t=>{ln(677,ny(t),682,ny(t),'#000',1,'tick');tx(String(t),675,ny(t)+4,10,{anchor:'end'},'n-y-tick');});
tx('Tryptophan metabolism',637,1045,10,{anchor:'middle',rot:-90},'n-y-title-1');tx('in DRN(% of WT)',650,1045,10,{anchor:'middle',rot:-90},'n-y-title-2');
</script>
</body></html>
